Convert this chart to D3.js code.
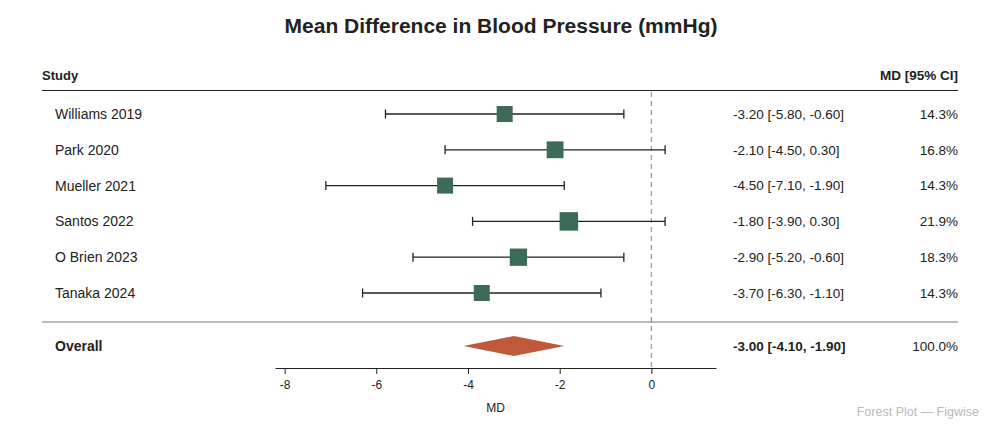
<!DOCTYPE html>
<html>
<head>
<meta charset="utf-8">
<script src="https://cdn.jsdelivr.net/npm/d3@7"></script>
<style>
  body { margin: 0; background: #fff; }
  text { font-family: "Liberation Sans", Arial, sans-serif; fill: #222; }
</style>
</head>
<body>
<div id="chart"></div>
<script>
// study data
var studies = ["Williams 2019", "Park 2020", "Mueller 2021", "Santos 2022", "O Brien 2023", "Tanaka 2024"];
var md = [-3.2, -2.1, -4.5, -1.8, -2.9, -3.7];
var ciLow = [-5.8, -4.5, -7.1, -3.9, -5.2, -6.3];
var ciHigh = [-0.6, 0.3, -1.9, 0.3, -0.6, -1.1];
var weights = [14.3, 16.8, 14.3, 21.9, 18.3, 14.3];

// pooled estimate
var overall = { label: "Overall", md: -3.0, lo: -4.1, hi: -1.9, weight: 100.0 };
var xTicks = [-8, -6, -4, -2, 0];

var width = 1000;
var height = 428;

var svg = d3.select("#chart")
  .append("svg")
  .attr("width", width)
  .attr("height", height);

// title
svg.append("text")
  .attr("x", 501)
  .attr("y", 33)
  .attr("text-anchor", "middle")
  .style("font-size", "21px")
  .style("font-weight", "bold")
  .text("Mean Difference in Blood Pressure (mmHg)");

// x scale, padded 15% on both sides of the CI range
var lo = d3.min(ciLow), hi = d3.max(ciHigh);
var pad = (hi - lo) * 0.15;
var x = d3.scaleLinear()
  .domain([lo - pad, hi + pad])
  .range([275, 716]);

var y = d3.scalePoint()
  .domain(studies)
  .range([114, 293]);

var size = d3.scaleLinear()
  .domain([d3.min(weights), d3.max(weights)])
  .range([16, 18.5]);

// header
svg.append("text")
  .attr("x", 42).attr("y", 80)
  .style("font-size", "13px").style("font-weight", "bold")
  .text("Study");
svg.append("text")
  .attr("x", 958).attr("y", 80)
  .attr("text-anchor", "end")
  .style("font-size", "13.5px").style("font-weight", "bold")
  .text("MD [95% CI]");
svg.append("line")
  .attr("x1", 42).attr("x2", 958)
  .attr("y1", 90.5).attr("y2", 90.5)
  .attr("stroke", "#222").attr("stroke-width", 1);

// reference line at zero
svg.append("line")
  .attr("x1", x(0)).attr("x2", x(0))
  .attr("y1", 92).attr("y2", 368)
  .attr("stroke", "#999")
  .attr("stroke-width", 1.2)
  .attr("stroke-dasharray", "5,4");

var rows = svg.selectAll(".row")
  .data(studies)
  .enter()
  .append("g")
  .attr("class", "row");

rows.append("text")
  .attr("x", 55)
  .attr("y", function(d) { return y(d); })
  .attr("dy", "0.35em")
  .style("font-size", "14px")
  .text(function(d) { return d; });

// CI whiskers
rows.append("line")
  .attr("x1", function(d, i) { return x(ciLow[i]); })
  .attr("x2", function(d, i) { return x(ciHigh[i]); })
  .attr("y1", function(d) { return y(d); })
  .attr("y2", function(d) { return y(d); })
  .attr("stroke", "#222").attr("stroke-width", 1.3);
rows.append("line")
  .attr("x1", function(d, i) { return x(ciLow[i]); })
  .attr("x2", function(d, i) { return x(ciLow[i]); })
  .attr("y1", function(d) { return y(d) - 4.5; })
  .attr("y2", function(d) { return y(d) + 4.5; })
  .attr("stroke", "#222").attr("stroke-width", 1.3);
rows.append("line")
  .attr("x1", function(d, i) { return x(ciHigh[i]); })
  .attr("x2", function(d, i) { return x(ciHigh[i]); })
  .attr("y1", function(d) { return y(d) - 4.5; })
  .attr("y2", function(d) { return y(d) + 4.5; })
  .attr("stroke", "#222").attr("stroke-width", 1.3);

// weighted squares
rows.append("rect")
  .attr("x", function(d, i) { return x(md[i]) - size(weights[i]) / 2; })
  .attr("y", function(d, i) { return y(d) - size(weights[i]) / 2; })
  .attr("width", function(d, i) { return size(weights[i]); })
  .attr("height", function(d, i) { return size(weights[i]); })
  .attr("fill", "#3d6b57");

rows.append("text")
  .attr("x", 733)
  .attr("y", function(d) { return y(d); })
  .attr("dy", "0.35em")
  .style("font-size", "13.5px")
  .text(function(d, i) {
    return md[i].toFixed(2) + " [" + ciLow[i].toFixed(2) + ", " + ciHigh[i].toFixed(2) + "]";
  });

rows.append("text")
  .attr("x", 958)
  .attr("y", function(d) { return y(d); })
  .attr("dy", "0.35em")
  .attr("text-anchor", "end")
  .style("font-size", "13.5px")
  .text(function(d, i) { return weights[i].toFixed(1) + "%"; });

// separator before the pooled row
svg.append("line")
  .attr("x1", 42).attr("x2", 958)
  .attr("y1", 322).attr("y2", 322)
  .attr("stroke", "#777").attr("stroke-width", 1);

var yo = 346;
svg.append("text")
  .attr("x", 55).attr("y", yo).attr("dy", "0.35em")
  .style("font-size", "14px").style("font-weight", "bold")
  .text(overall.label);

svg.append("path")
  .attr("d", "M" + x(overall.lo) + "," + yo +
    "L" + x(overall.md) + "," + (yo - 10) +
    "L" + x(overall.hi) + "," + yo +
    "L" + x(overall.md) + "," + (yo + 10) + "Z")
  .attr("fill", "#c0583a");

svg.append("text")
  .attr("x", 733).attr("y", yo).attr("dy", "0.35em")
  .style("font-size", "13.5px").style("font-weight", "bold")
  .text(overall.md.toFixed(2) + " [" + overall.lo.toFixed(2) + ", " + overall.hi.toFixed(2) + "]");

svg.append("text")
  .attr("x", 958).attr("y", yo).attr("dy", "0.35em")
  .attr("text-anchor", "end")
  .style("font-size", "13.5px")
  .text(overall.weight.toFixed(1) + "%");

// x axis, plain hyphen for the minus sign
var xAxis = d3.axisBottom(x)
  .tickValues(xTicks)
  .tickSize(6)
  .tickSizeOuter(0)
  .tickFormat(function(d) { return String(d); });

var gx = svg.append("g")
  .attr("transform", "translate(0,368)")
  .call(xAxis);
gx.select(".domain").attr("stroke", "#222");
gx.selectAll(".tick line").attr("stroke", "#222");
gx.selectAll(".tick text")
  .attr("dy", "1em")
  .style("font-size", "12px")
  .style("font-family", "Liberation Sans, Arial, sans-serif")
  .attr("fill", "#222");

svg.append("text")
  .attr("x", x(-3.4)).attr("y", 412)
  .attr("text-anchor", "middle")
  .style("font-size", "12px")
  .text("MD");

svg.append("text")
  .attr("x", 979).attr("y", 416)
  .attr("text-anchor", "end")
  .style("font-size", "12.5px")
  .style("fill", "#bbb")
  .text("Forest Plot \u2014 Figwise");
</script>
</body>
</html>
